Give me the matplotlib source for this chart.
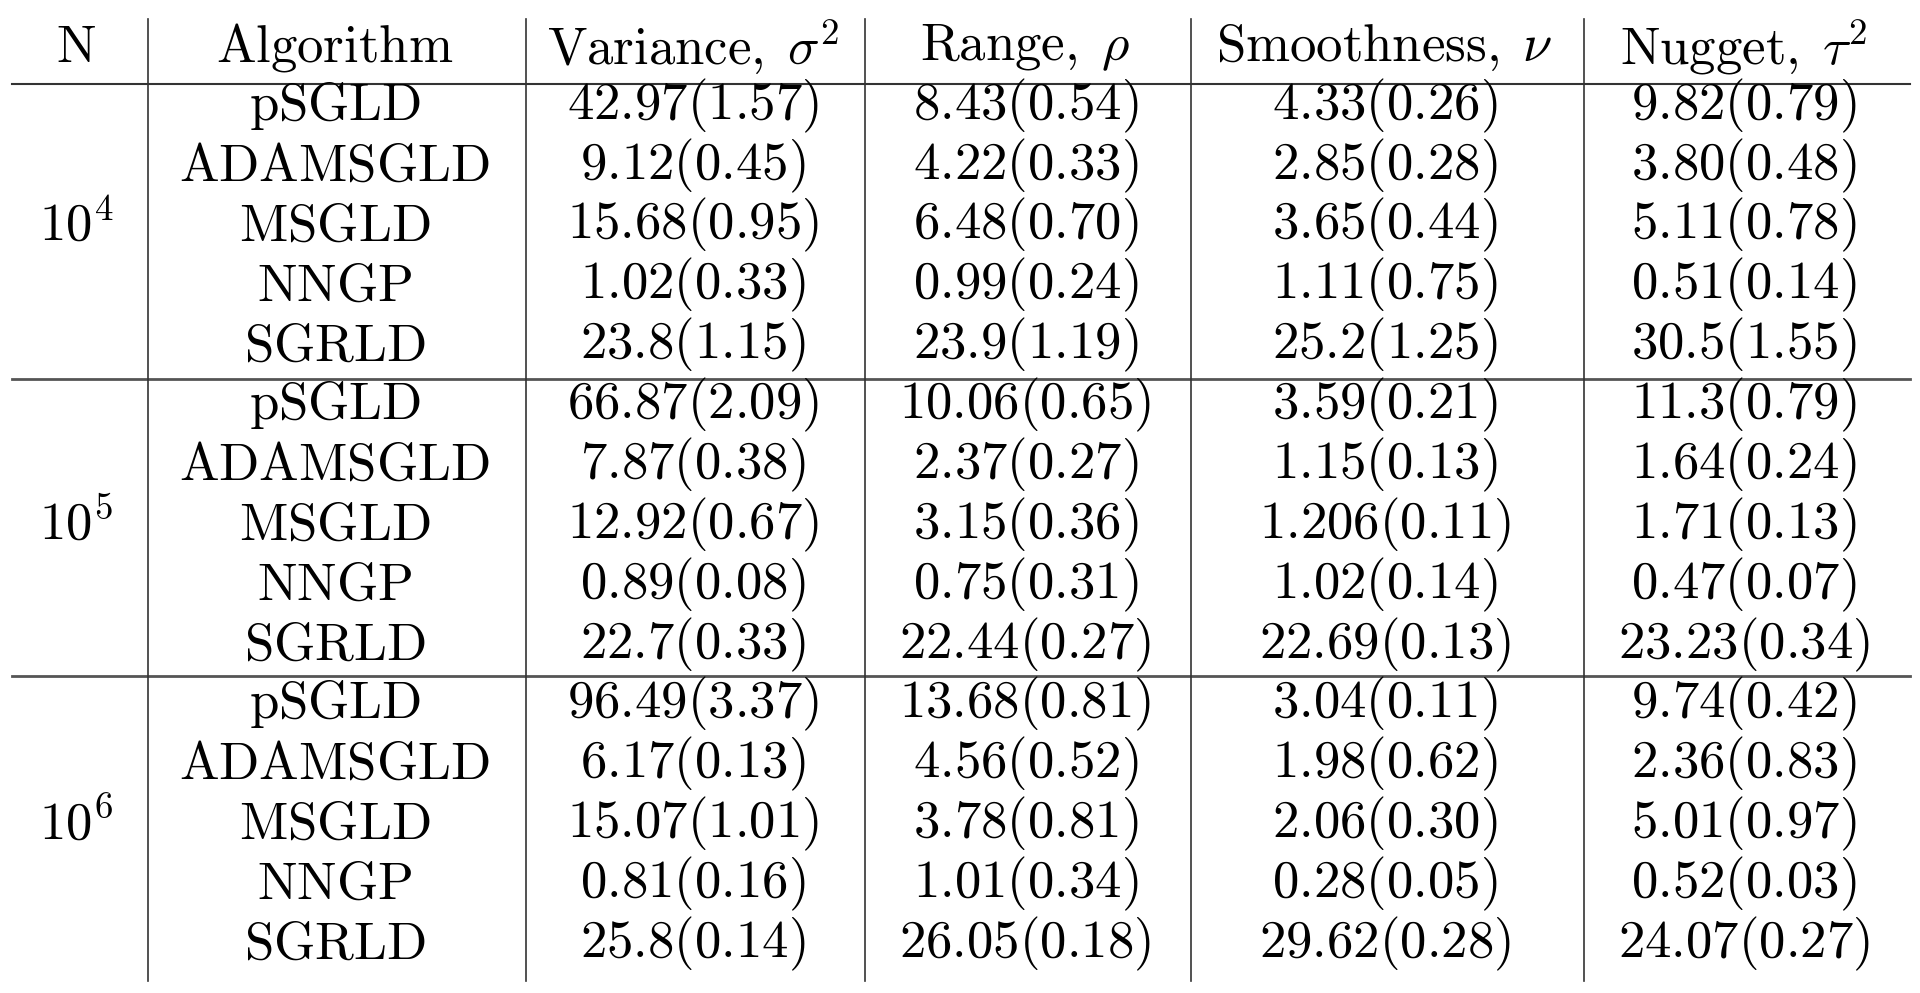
import matplotlib.pyplot as plt

plt.rcParams['mathtext.fontset'] = 'cm'

headers = [r"N", r"Algorithm", r"Variance, $\sigma^2$", r"Range, $\rho$",
           r"Smoothness, $\nu$", r"Nugget, $\tau^2$"]
n_labels = ["4", "5", "6"]
algorithms = ["pSGLD", "ADAMSGLD", "MSGLD", "NNGP", "SGRLD"]

variance = [["42.97(1.57)", "9.12(0.45)", "15.68(0.95)", "1.02(0.33)", "23.8(1.15)"],
            ["66.87(2.09)", "7.87(0.38)", "12.92(0.67)", "0.89(0.08)", "22.7(0.33)"],
            ["96.49(3.37)", "6.17(0.13)", "15.07(1.01)", "0.81(0.16)", "25.8(0.14)"]]
range_rho = [["8.43(0.54)", "4.22(0.33)", "6.48(0.70)", "0.99(0.24)", "23.9(1.19)"],
             ["10.06(0.65)", "2.37(0.27)", "3.15(0.36)", "0.75(0.31)", "22.44(0.27)"],
             ["13.68(0.81)", "4.56(0.52)", "3.78(0.81)", "1.01(0.34)", "26.05(0.18)"]]
smoothness = [["4.33(0.26)", "2.85(0.28)", "3.65(0.44)", "1.11(0.75)", "25.2(1.25)"],
              ["3.59(0.21)", "1.15(0.13)", "1.206(0.11)", "1.02(0.14)", "22.69(0.13)"],
              ["3.04(0.11)", "1.98(0.62)", "2.06(0.30)", "0.28(0.05)", "29.62(0.28)"]]
nugget = [["9.82(0.79)", "3.80(0.48)", "5.11(0.78)", "0.51(0.14)", "30.5(1.55)"],
          ["11.3(0.79)", "1.64(0.24)", "1.71(0.13)", "0.47(0.07)", "23.23(0.34)"],
          ["9.74(0.42)", "2.36(0.83)", "5.01(0.97)", "0.52(0.03)", "24.07(0.27)"]]

fig = plt.figure(figsize=(19.2, 9.93), dpi=100)
ax = fig.add_axes([0, 0, 1, 1])
ax.set_xlim(0, 1560)
ax.set_ylim(800, 0)
ax.axis('off')

col_x = [62, 272, 563, 833, 1125, 1417]
vlines = [120, 427, 703, 968, 1287]
group_start = [85, 326, 567]
row_step = 48.3
fs = 38

def m(s):
    return r"$\mathrm{" + s + "}$"

for x, h in zip(col_x, headers):
    if "$" in h:
        a, b = h.split(", ")
        txt = m(a + ",") + r"$\;$" + b
    else:
        txt = m(h)
    ax.text(x, 38, txt, ha='center', va='center', fontsize=fs)

for g in range(3):
    ys = [group_start[g] + i * row_step for i in range(5)]
    ax.text(col_x[0], ys[2], r"$10^{" + n_labels[g] + "}$", ha='center', va='center', fontsize=fs)
    for i in range(5):
        y = ys[i]
        ax.text(col_x[1], y, m(algorithms[i]), ha='center', va='center', fontsize=fs)
        for j, data in enumerate([variance, range_rho, smoothness, nugget]):
            ax.text(col_x[2 + j], y, m(data[g][i]), ha='center', va='center', fontsize=fs)

ax.plot([10, 1552], [68, 68], color='#333333', lw=1.5)
for y in [305, 545]:
    ax.plot([10, 1552], [y, y], color='#555555', lw=2)
for x in vlines:
    ax.plot([x, x], [15, 790], color='#333333', lw=1.2)

fig.savefig("out.png", dpi=100)
